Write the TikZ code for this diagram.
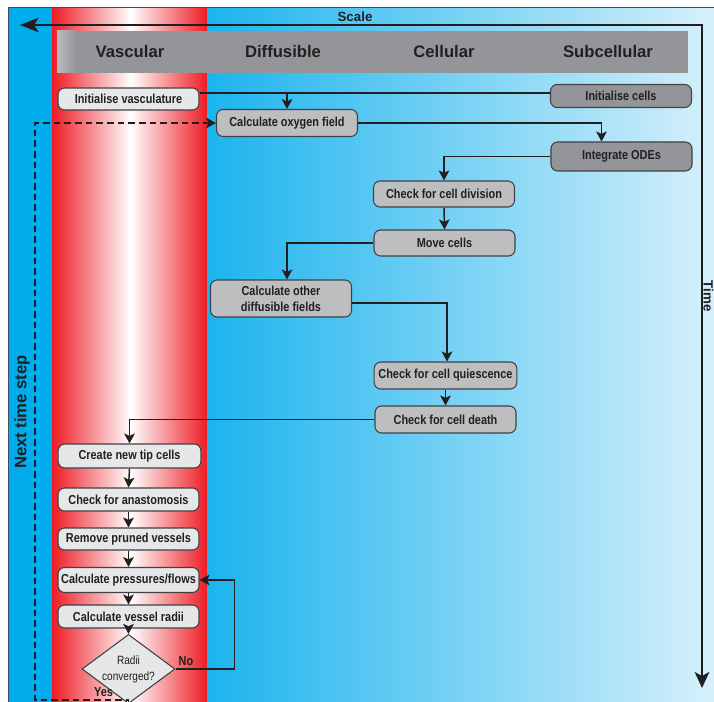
\documentclass[tikz,border=0pt]{standalone}
\usepackage{fontspec}
\setmainfont{Liberation Sans}
\newfontfamily\narrowfont[FakeStretch=0.84]{Liberation Sans}
\usetikzlibrary{arrows.meta,shapes.geometric}

\definecolor{stripblue}{RGB}{0,172,236}
\definecolor{bandred}{RGB}{237,28,36}
\definecolor{fieldblueL}{RGB}{28,180,238}
\definecolor{fieldblueR}{RGB}{214,240,251}
\definecolor{framecol}{RGB}{60,80,95}
\definecolor{headgray}{RGB}{147,149,152}
\definecolor{headlight}{RGB}{185,186,188}
\definecolor{boxlight}{RGB}{230,231,232}
\definecolor{boxmid}{RGB}{189,190,192}
\definecolor{boxdark}{RGB}{147,149,152}
\definecolor{boxline}{RGB}{65,64,66}
\definecolor{inkcol}{RGB}{35,31,32}

\tikzset{every picture/.style={line width=0.75pt}}
\tikzset{
  stepbox/.style={draw=boxline, line width=0.8pt, rounded corners=5pt, minimum width=105.75pt,
    inner sep=0.75pt, align=center, text=inkcol,
    font={\narrowfont\bfseries\fontsize{9.75}{12}\selectfont}},
  vascbox/.style={stepbox, fill=boxlight},
  fieldbox/.style={stepbox, fill=boxmid},
  subbox/.style={stepbox, fill=boxdark},
  headtext/.style={inner sep=0.75pt, text=inkcol, font={\bfseries\fontsize{12.5}{15}\selectfont}},
  axistext/.style={inner sep=0.75pt, text=inkcol, font={\bfseries\fontsize{10}{12}\selectfont}},
  smalllabel/.style={inner sep=0.75pt, text=inkcol, font={\narrowfont\bfseries\fontsize{9.75}{12}\selectfont}},
  flowarrow/.style={draw=inkcol, line width=1.1pt, -{Stealth[length=7.5pt,width=8pt,inset=1.8pt]}},
  flowline/.style={draw=inkcol, line width=1.1pt},
  loopback/.style={flowarrow, dash pattern=on 5pt off 3pt},
  scalearrow/.style={draw=inkcol, line width=1.6pt, line join=miter,
    {Stealth[length=14pt,width=11pt,inset=3.5pt]}-{Stealth[length=12pt,width=11pt,inset=3pt]}}
}

\begin{document}
\begin{tikzpicture}[x=0.75pt,y=0.75pt,yscale=-1,xscale=1]
\useasboundingbox (0,0) rectangle (714,702);

%Shape: Rectangle [left strip]
\fill [color=stripblue] (8,8) rectangle (52,702);
%Shape: Rectangle [vascular band]
\shade [left color=bandred, right color=white] (52,8) rectangle (131,702);
\shade [left color=white, right color=bandred] (130.5,8) rectangle (207,702);
%Shape: Rectangle [other scales]
\shade [left color=fieldblueL, right color=fieldblueR] (207,8) rectangle (714,702);
%Straight Lines [frame]
\draw [color=framecol] (8,702) -- (8,8) -- (714,8);

%Shape: Rectangle [header]
\fill [color=headgray] (57,31) rectangle (688,73);
\shade [left color=headlight, right color=headgray] (57,31) rectangle (76,73);

% Text Node
\node [headtext] (hvasc) at (130,52) {Vascular};
% Text Node
\node [headtext] (hdiff) at (283,52) {Diffusible};
% Text Node
\node [headtext] (hcell) at (444,52) {Cellular};
% Text Node
\node [headtext] (hsub) at (608,52) {Subcellular};

%Scale / time axes
\coordinate (scaleL) at (20,25);
\coordinate (scaleC) at (702,25);
\coordinate (timeB) at (702,688);
\draw [scalearrow] (scaleL) -- (scaleC) -- (timeB);
% Text Node
\node [axistext] (scalelab) at (355,17) {Scale};
% Text Node
\node [axistext, rotate=-90, inner sep=0pt] (timelab) at (708.5,296) {Time};
% Text Node
\node [headtext, rotate=90] (nextlab) at (22,412) {Next time step};

%Steps
\node [vascbox, minimum height=16.5pt] (vasc) at (128.5,99) {Initialise vasculature};
\node [fieldbox, minimum height=20.25pt] (oxy) at (287,123) {Calculate oxygen field};
\node [subbox, minimum height=17.25pt] (initc) at (621,96) {Initialise cells};
\node [subbox, minimum height=21.75pt] (odes) at (621.5,156.5) {Integrate ODEs};
\node [fieldbox, minimum height=19.5pt] (div) at (444,194) {Check for cell division};
\node [fieldbox, minimum height=19.5pt] (move) at (444.5,243) {Move cells};
\node [fieldbox, minimum height=27.75pt] (other) at (281,298.5) {Calculate other\\diffusible fields};
\node [fieldbox, minimum height=20.25pt, minimum width=107pt] (quies) at (445.5,375.5) {Check for cell quiescence};
\node [fieldbox, minimum height=20.25pt] (death) at (445.5,419.5) {Check for cell death};
\node [vascbox, minimum height=18pt, minimum width=107pt] (tip) at (129.5,456) {Create new tip cells};
\node [vascbox, minimum height=17.25pt] (anast) at (128.5,499.5) {Check for anastomosis};
\node [vascbox, minimum height=16.5pt] (pruned) at (128.5,539) {Remove pruned vessels};
\node [vascbox, minimum height=18.75pt] (press) at (128.5,580) {Calculate pressures/flows};
\node [vascbox, minimum height=17.25pt] (radii) at (128.5,616.5) {Calculate vessel radii};
\node [diamond, draw=boxline, line width=0.8pt, fill=boxlight, minimum width=69.75pt, minimum height=37.5pt,
  inner sep=-2pt, align=center, text=inkcol, font={\narrowfont\fontsize{9}{12}\selectfont}]
  (conv) at (128.5,669) {Radii\\converged?};

%Connectors
\coordinate (vjoin) at (287,93);
\draw [flowline] (vasc.east |- vjoin) -- (initc.west |- vjoin);
\draw [flowarrow] (vjoin) -- (oxy.north);
\draw [flowarrow] (oxy.east) -| ([xshift=-15pt]odes.north);
\draw [flowarrow] (odes.west) -| (div.north);
\draw [flowarrow] (div.south) -- (move.north);
\draw [flowarrow] (move.west) -| ([xshift=4.5pt]other.north);
\coordinate (ojoin) at (447,303);
\draw [flowarrow, line width=2pt] (other.east |- ojoin) -| (quies.north -| ojoin);
\draw [flowarrow] (quies.south) -- (death.north);
\draw [flowarrow] (death.west) -| (tip.north);
\foreach \a/\b in {tip/anast, anast/pruned, pruned/press, press/radii, radii/conv}
  \draw [flowarrow] (\a.south) -- (\b.north);

%No loop
\coordinate (noturn) at (234.5,580);
\draw [flowarrow] (conv.east) -| (noturn) -- (press.east);
\node [smalllabel] (nolab) at (186,661) {No};

%Yes, next time step
\coordinate (yesend) at (128.5,700);
\coordinate (backturn) at (35,700);
\draw [loopback] (conv.south) -- (yesend) -- (backturn) |- (oxy.west);
\node [smalllabel] (yeslab) at (103.5,692) {Yes};

\end{tikzpicture}
\end{document}
